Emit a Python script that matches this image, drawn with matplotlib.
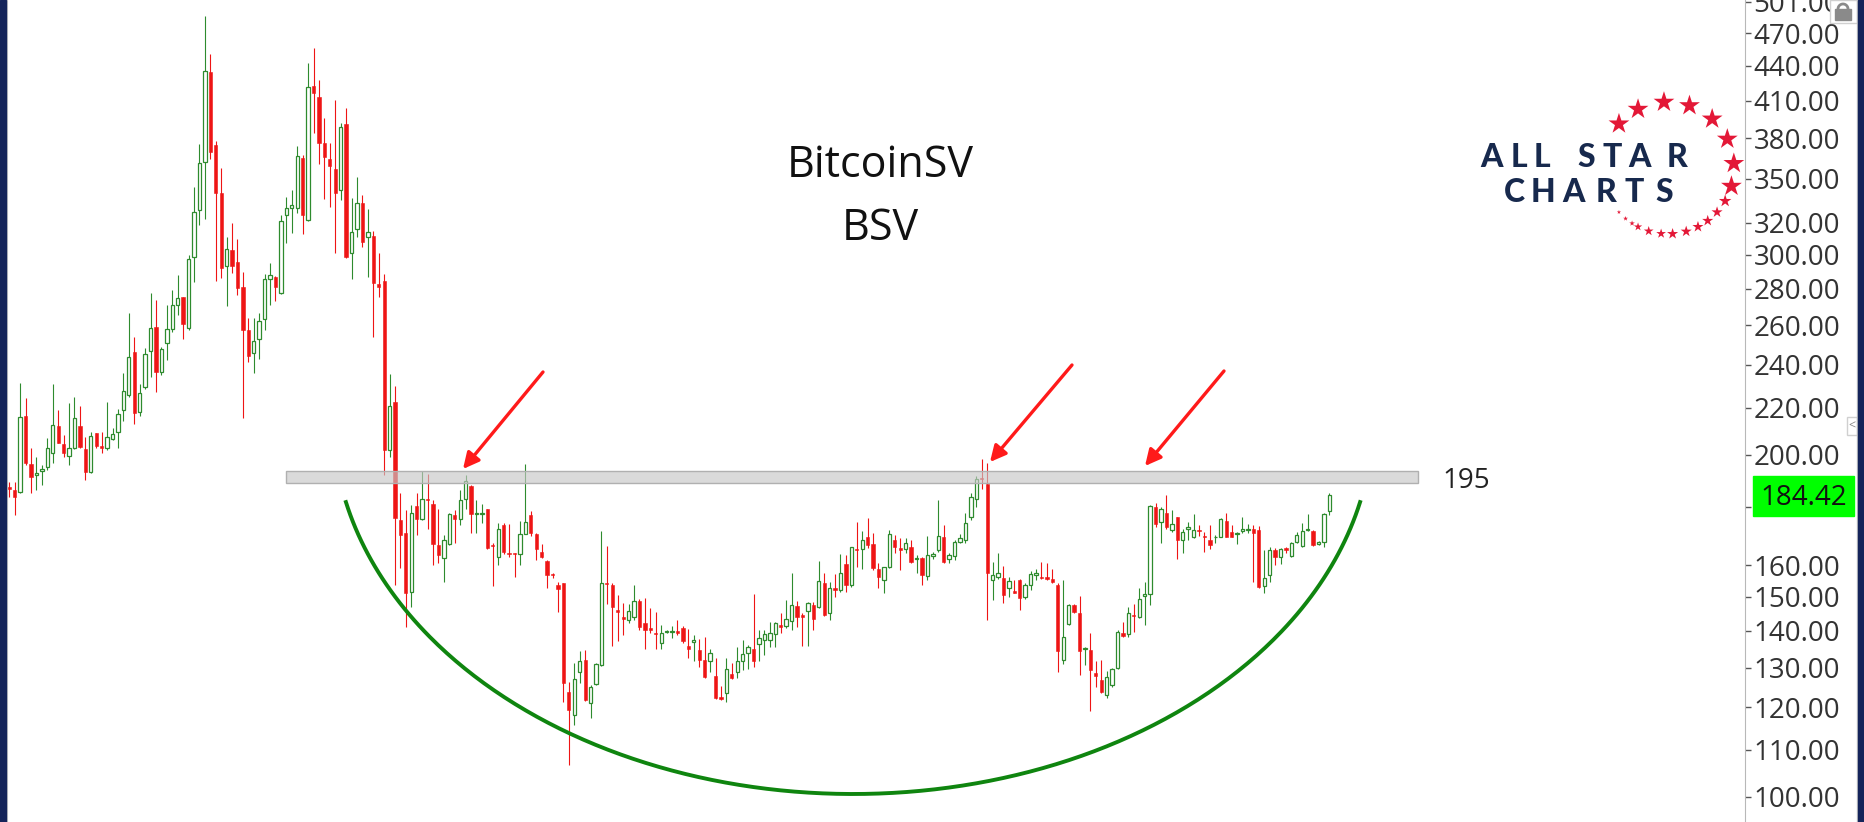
import numpy as np
import matplotlib.pyplot as plt
from matplotlib.patches import Rectangle
from matplotlib.lines import Line2D
from matplotlib.ticker import NullLocator

plt.rcParams['font.family'] = ['Open Sans', 'DejaVu Sans']

W, H = 1865, 822

# daily candles (USD)
opens = [
    187.3, 186.3, 185.6, 216.4, 196.4, 192.0, 193.7, 195.3, 200.6, 212.1,
    204.4, 199.6, 202.7, 212.1, 202.3, 193.3, 208.9, 203.6, 202.7, 206.4,
    209.6, 219.1, 225.8, 246.6, 218.4, 229.3, 247.1, 259.4, 236.8, 250.8,
    258.0, 271.0, 275.3, 258.5, 298.9, 328.5, 362.4, 434.9, 374.8, 340.3,
    293.5, 303.0, 295.5, 281.3, 257.8, 246.1, 252.8, 263.3, 285.5, 287.0,
    277.5, 325.2, 329.6, 329.6, 364.8, 321.9, 422.4, 412.8, 376.6, 364.1,
    357.2, 342.2, 390.9, 301.4, 316.0, 333.1, 311.3, 311.7, 282.8, 284.5,
    202.0, 222.8, 175.3, 170.6, 151.4, 180.3, 175.5, 183.0, 181.1, 166.6,
    162.2, 167.0, 177.1, 175.5, 182.8, 187.8, 177.3, 177.4, 179.1, 166.6,
    162.7, 173.5, 164.0, 163.8, 163.6, 170.4, 177.0, 170.4, 164.3, 161.4,
    157.1, 153.7, 154.2, 123.8, 118.1, 128.9, 132.0, 121.0, 125.7, 130.6,
    154.2, 153.7, 146.1, 143.9, 143.1, 144.1, 148.9, 142.4, 140.7, 139.5,
    136.6, 139.8, 139.6, 140.1, 140.7, 135.8, 137.0, 134.7, 132.0, 131.8,
    127.8, 122.4, 123.5, 128.3, 128.9, 131.8, 133.8, 135.1, 136.4, 137.5,
    137.5, 139.1, 141.7, 141.5, 142.8, 147.3, 144.6, 145.9, 147.6, 146.9,
    154.4, 145.1, 152.6, 152.1, 160.4, 153.7, 165.2, 165.2, 169.2, 167.0,
    158.7, 155.3, 159.5, 168.3, 165.6, 165.2, 165.9, 161.9, 162.2, 156.5,
    163.1, 165.0, 169.2, 161.9, 163.0, 167.8, 168.5, 176.5, 182.9, 190.7,
    188.5, 155.2, 156.3, 155.8, 152.6, 151.9, 155.2, 150.1, 153.7, 156.8,
    156.3, 156.1, 155.5, 153.7, 132.1, 141.9, 147.6, 145.1, 135.0, 134.7,
    128.6, 126.7, 123.0, 125.5, 129.8, 139.5, 139.0, 144.6, 143.9, 150.4,
    150.9, 180.0, 174.7, 177.7, 171.9, 176.2, 168.5, 172.3, 169.3, 171.9,
    169.7, 168.3, 169.3, 169.5, 175.1, 171.2, 170.4, 171.4, 171.9, 172.3,
    171.8, 153.2, 156.8, 164.8, 162.7, 165.6, 163.0, 167.8, 166.3, 171.7,
    171.6, 167.0, 167.8, 178.6,
]
highs = [
    189.4, 189.4, 231.2, 224.4, 202.7, 199.3, 196.0, 206.8, 230.9, 219.1,
    208.2, 222.1, 225.1, 220.9, 207.2, 209.6, 209.2, 209.6, 222.8, 211.1,
    219.3, 236.3, 266.5, 253.8, 230.9, 248.2, 277.9, 273.6, 249.1, 271.0,
    279.4, 288.0, 275.6, 299.9, 344.0, 375.5, 487.1, 450.7, 377.6, 358.0,
    311.3, 320.2, 309.6, 289.9, 264.2, 264.2, 266.5, 288.6, 294.9, 287.4,
    325.2, 337.6, 342.2, 374.0, 367.3, 442.3, 456.6, 427.6, 395.7, 376.1,
    410.6, 392.2, 403.8, 336.4, 351.5, 338.6, 329.0, 315.1, 301.0, 288.6,
    235.7, 229.9, 185.0, 178.8, 180.7, 185.0, 193.6, 192.4, 182.5, 179.1,
    170.0, 177.7, 178.8, 186.3, 192.0, 188.2, 182.5, 181.1, 179.4, 167.2,
    174.3, 174.1, 173.8, 163.9, 175.1, 196.3, 178.6, 170.9, 167.0, 161.6,
    157.3, 154.7, 154.4, 126.3, 131.1, 134.5, 134.7, 125.5, 131.1, 171.4,
    166.3, 154.2, 150.6, 148.3, 147.9, 153.7, 149.3, 149.6, 146.6, 145.6,
    141.8, 140.4, 141.3, 143.1, 141.3, 140.5, 138.8, 137.6, 138.2, 135.1,
    132.4, 125.2, 132.4, 131.1, 135.6, 137.4, 136.1, 150.9, 140.2, 140.2,
    142.6, 142.6, 145.1, 149.1, 157.3, 148.9, 145.1, 148.6, 148.6, 161.4,
    157.3, 154.7, 157.1, 163.6, 163.3, 166.1, 174.7, 171.6, 175.9, 170.9,
    160.6, 159.5, 171.9, 170.0, 168.9, 168.9, 168.5, 163.3, 162.5, 169.7,
    164.4, 182.5, 173.5, 163.8, 168.5, 170.4, 177.7, 185.0, 191.6, 198.5,
    196.6, 160.9, 163.8, 159.7, 156.3, 155.2, 155.4, 154.2, 158.2, 158.6,
    161.1, 160.6, 158.7, 154.2, 155.2, 147.9, 147.9, 150.4, 135.4, 139.3,
    131.8, 132.0, 129.1, 129.8, 140.2, 142.6, 147.1, 147.9, 152.6, 154.7,
    180.7, 181.5, 179.8, 184.3, 178.8, 176.5, 172.3, 174.7, 177.3, 173.5,
    171.2, 173.5, 170.0, 175.9, 177.9, 173.5, 171.2, 176.5, 173.8, 173.5,
    173.2, 165.0, 166.1, 165.6, 165.6, 166.1, 167.8, 171.2, 174.3, 177.3,
    171.9, 168.1, 177.7, 185.2,
]
lows = [
    183.5, 177.0, 185.3, 196.0, 185.0, 186.3, 188.2, 194.0, 196.6, 204.7,
    199.0, 196.0, 202.5, 202.7, 190.1, 193.0, 202.7, 200.6, 202.0, 206.1,
    202.7, 214.4, 225.1, 212.9, 216.4, 228.4, 234.4, 227.3, 235.2, 242.4,
    256.8, 265.6, 252.8, 257.8, 284.2, 318.5, 322.6, 364.1, 284.5, 286.1,
    270.5, 289.0, 276.6, 215.4, 241.6, 236.3, 242.7, 257.8, 271.0, 273.2,
    277.2, 307.2, 313.4, 326.3, 313.0, 321.5, 383.8, 360.6, 335.8, 330.8,
    301.4, 335.3, 298.3, 285.5, 311.3, 305.1, 287.0, 254.2, 275.7, 192.0,
    199.0, 153.7, 159.0, 141.2, 147.1, 170.0, 175.3, 172.3, 160.1, 160.6,
    154.7, 166.6, 167.2, 173.5, 179.4, 170.9, 170.9, 174.1, 165.4, 153.2,
    159.9, 163.6, 162.7, 156.3, 160.1, 170.3, 169.8, 161.6, 162.2, 152.8,
    155.8, 145.6, 121.3, 106.7, 115.7, 125.9, 121.5, 117.3, 125.5, 130.3,
    147.9, 135.8, 137.3, 138.8, 142.3, 143.1, 140.2, 135.1, 139.5, 135.1,
    135.1, 139.3, 137.9, 138.8, 136.6, 132.4, 131.8, 130.2, 127.2, 128.9,
    121.9, 121.7, 121.3, 126.9, 127.2, 129.4, 129.5, 130.2, 131.8, 133.3,
    135.4, 135.6, 139.5, 140.8, 140.2, 141.2, 135.8, 135.8, 140.4, 146.6,
    144.3, 143.1, 150.0, 151.5, 151.5, 153.1, 159.5, 158.8, 165.6, 158.5,
    152.8, 151.1, 159.0, 163.8, 158.3, 163.8, 160.8, 157.3, 153.7, 155.2,
    161.9, 164.4, 160.6, 160.6, 161.6, 167.4, 167.2, 175.3, 179.8, 186.8,
    143.1, 149.1, 155.5, 148.1, 150.1, 151.1, 146.1, 149.3, 152.1, 155.2,
    155.5, 155.2, 154.2, 128.9, 130.9, 141.7, 145.1, 128.1, 130.6, 119.1,
    125.0, 123.5, 122.1, 125.0, 129.5, 138.2, 138.2, 139.8, 143.6, 141.6,
    147.6, 172.7, 167.2, 172.3, 171.1, 161.9, 163.8, 168.3, 168.9, 169.6,
    164.3, 165.2, 167.2, 169.3, 169.3, 169.3, 167.0, 170.6, 170.9, 154.7,
    152.8, 151.1, 154.7, 160.1, 160.4, 164.1, 162.7, 167.4, 166.1, 171.6,
    166.3, 166.6, 166.1, 177.0,
]
closes = [
    186.5, 183.8, 216.1, 196.6, 191.1, 192.9, 194.2, 202.7, 212.5, 205.0,
    200.9, 202.7, 215.4, 203.3, 193.3, 207.8, 203.6, 202.7, 207.2, 208.6,
    217.3, 227.8, 244.1, 217.9, 226.9, 245.4, 258.9, 236.8, 247.7, 258.0,
    271.0, 275.1, 260.8, 297.3, 327.0, 361.6, 435.8, 369.8, 339.8, 291.9,
    303.4, 293.5, 280.3, 257.8, 244.4, 252.1, 262.1, 285.5, 288.0, 281.3,
    321.5, 329.6, 331.9, 366.5, 325.2, 421.3, 416.8, 376.1, 366.0, 359.2,
    339.8, 388.5, 298.5, 314.0, 333.1, 307.6, 314.0, 283.6, 280.9, 202.0,
    220.9, 175.9, 170.0, 151.1, 177.7, 175.5, 182.8, 182.5, 167.0, 163.3,
    168.5, 177.3, 175.5, 182.5, 189.7, 177.3, 177.7, 177.9, 165.6, 166.3,
    172.0, 164.3, 163.6, 163.6, 170.4, 174.7, 170.9, 165.2, 162.7, 156.8,
    156.8, 152.3, 125.9, 119.3, 126.9, 131.7, 121.7, 124.9, 130.9, 154.4,
    154.0, 146.9, 145.6, 143.4, 145.9, 148.9, 141.2, 140.2, 140.2, 139.1,
    139.5, 140.1, 140.0, 139.5, 137.2, 135.1, 137.5, 132.1, 127.4, 134.0,
    122.1, 122.0, 129.5, 127.2, 131.8, 133.6, 135.6, 131.8, 137.9, 139.1,
    139.3, 142.4, 141.2, 143.4, 147.6, 143.9, 144.1, 148.1, 143.3, 155.0,
    144.6, 152.6, 152.1, 157.3, 153.7, 165.9, 164.8, 168.5, 166.6, 159.0,
    156.3, 159.4, 170.4, 166.1, 165.0, 167.2, 161.1, 162.3, 156.8, 163.3,
    163.5, 169.7, 161.1, 163.3, 167.8, 168.9, 174.3, 183.6, 190.6, 190.3,
    157.3, 156.8, 157.3, 150.6, 155.0, 151.3, 149.6, 153.7, 157.1, 157.3,
    155.8, 155.6, 154.7, 134.5, 138.2, 147.6, 145.6, 134.3, 135.2, 129.3,
    127.8, 123.8, 127.6, 129.5, 139.8, 138.6, 145.1, 144.3, 149.3, 150.8,
    180.3, 174.0, 179.4, 172.7, 173.8, 168.5, 171.1, 172.9, 171.9, 171.4,
    169.3, 166.6, 169.5, 175.5, 169.5, 169.5, 170.9, 172.3, 172.3, 170.6,
    153.1, 155.8, 165.0, 162.7, 165.2, 165.0, 167.4, 170.0, 171.6, 172.3,
    166.6, 167.8, 177.4, 184.42,
]

yticks = [100, 110, 120, 130, 140, 150, 160, 180, 200, 220, 240,
          260, 280, 300, 320, 350, 380, 410, 440, 470, 501]
zone_low, zone_high = 188.8, 193.7
zone_start, zone_end = 50.9, 259.3
zone_label = "195"
last_price = closes[-1]
title = ["BitcoinSV", "BSV"]

GREEN = '#2e8b2e'
RED = '#ee1515'

fig = plt.figure(figsize=(W / 100, H / 100), dpi=100)
fig.patch.set_facecolor('white')
ax = fig.add_axes([7 / W, 0, (1745 - 7) / W, 1])

o, h, l, c = (np.array(v) for v in (opens, highs, lows, closes))
x = np.arange(len(o))
up = c >= o

# wicks then bodies
ax.vlines(x[up], l[up], h[up], color=GREEN, lw=0.8, zorder=2)
ax.vlines(x[~up], l[~up], h[~up], color=RED, lw=0.8, zorder=2)
ax.bar(x[up], c[up] - o[up], bottom=o[up], width=0.62, facecolor='white',
       edgecolor=GREEN, linewidth=0.9, zorder=3)
ax.bar(x[~up], o[~up] - c[~up], bottom=c[~up], width=0.6, color=RED,
       edgecolor=RED, linewidth=0.4, zorder=3)

# resistance zone
ax.add_patch(Rectangle((zone_start, zone_low), zone_end - zone_start,
                       zone_high - zone_low, facecolor=(0.78, 0.78, 0.78, 0.65),
                       edgecolor='#b0b0b0', lw=1, zorder=4))
ax.text(263.75, 187.0, zone_label, fontsize=20, va='baseline', ha='left',
        color='#222222')

# rounded bottom (drawn in pixel space)
t = np.radians(np.linspace(192.8, 347.2, 300))
px = 853 + 520 * np.cos(t)
py = 419 - 375 * np.sin(t)
ax.plot(px / W, 1 - py / H, transform=fig.transFigure, color='#0f850f',
        lw=2.8, zorder=5, clip_on=False)

# arrows
for tail, tip in [((543, 372), (463, 469)), ((1072, 365), (990, 462)),
                  ((1224, 371), (1145, 466))]:
    ax.annotate('', xy=(tip[0], H - tip[1]), xytext=(tail[0], H - tail[1]),
                xycoords='figure pixels', textcoords='figure pixels',
                arrowprops=dict(arrowstyle='-|>', color='#ff1a1a', lw=2.4,
                                mutation_scale=24, shrinkA=0, shrinkB=0),
                zorder=6)

# axes styling
ax.set_yscale('log')
ax.yaxis.tick_right()
ax.set_yticks(yticks)
ax.set_yticklabels([f'{v:.2f}' for v in yticks])
ax.yaxis.set_minor_locator(NullLocator())
ax.set_xticks([])
ax.tick_params(axis='y', direction='out', length=4.5, width=1, pad=1.5,
               colors='#555555', labelcolor='#333333', labelsize=20)
for side in ('top', 'bottom'):
    ax.spines[side].set_visible(False)
ax.spines['left'].set_color('#cccccc')
ax.spines['right'].set_color('#b8b8b8')
ax.set_xlim(-0.42, 319.5)
ax.set_ylim(95.06, 502.8)

# title
fig.text(880 / W, 1 - 177 / H, title[0], fontsize=31, ha='center',
         va='baseline', color='#111111')
fig.text(880 / W, 1 - 240 / H, title[1], fontsize=31, ha='center',
         va='baseline', color='#111111')

# last price tag
fig.add_artist(Rectangle((1753 / W, 1 - 516 / H), 101 / W, 40 / H,
                         transform=fig.transFigure, color='#00ff00', zorder=5))
y_last = 797 - 493.5 * np.log(last_price / 100)
fig.text(1803.5 / W, 1 - y_last / H, f'{last_price:.2f}', fontsize=20,
         ha='center', va='center_baseline', color='#111111', zorder=6)

# logo
NAVY = '#17294d'
for ch, cx in zip("ALL STAR", [1491.7, 1519, 1542.3, 0, 1586.7, 1612.3, 1640, 1676.7]):
    if ch != ' ':
        fig.text(cx / W, 1 - 167.3 / H, ch, fontsize=23, fontweight='black',
                 family=['Lato', 'DejaVu Sans'], color=NAVY, ha='center',
                 va='baseline')
for ch, cx in zip("CHARTS", [1514, 1543.3, 1573.3, 1605.7, 1634, 1664]):
    fig.text(cx / W, 1 - 201.7 / H, ch, fontsize=23, fontweight='black',
             family=['Lato', 'DejaVu Sans'], color=NAVY, ha='center',
             va='baseline')
star_ang = np.radians([138, 117, 93.5, 71, 48, 26, 4, -16, -30, -42, -53,
                       -63, -74, -86, -96, -107, -117, -123, -130, -138])
star_px = np.array([15] * 8 + [9, 8, 8, 8, 8, 8, 7, 7, 6, 4, 3.5, 3])
sx = 1668 + 66 * np.cos(star_ang)
sy = 168 - 66 * np.sin(star_ang)
ax.scatter(sx / W, 1 - sy / H, s=(1.05 * star_px) ** 2, marker='*',
           color='#e31837', linewidths=0, transform=fig.transFigure,
           clip_on=False, zorder=7)

# lock icon and small scroll button
fig.add_artist(Rectangle((1830 / W, 1 - 23 / H), 27 / W, 23 / H,
                         transform=fig.transFigure, facecolor='white',
                         edgecolor='#d0d0d0', lw=1, zorder=5))
fig.add_artist(Rectangle((1835 / W, 1 - 20 / H), 16 / W, 11 / H,
                         transform=fig.transFigure, color='#8a8a8a', zorder=6))
th = np.radians(np.linspace(0, 180, 40))
fig.add_artist(Line2D((1843 + 5 * np.cos(th)) / W, 1 - (9 - 5 * np.sin(th)) / H,
                      transform=fig.transFigure, color='#8a8a8a', lw=2, zorder=6))
fig.add_artist(Rectangle((1847 / W, 1 - 435 / H), 10 / W, 18 / H,
                         transform=fig.transFigure, facecolor='white',
                         edgecolor='#d0d0d0', lw=1, zorder=5))
fig.text(1852 / W, 1 - 426 / H, '<', fontsize=9, color='#888888', ha='center',
         va='center', zorder=6)

# frame
fig.add_artist(Line2D([1857 / W, 1857 / W], [0, 1], transform=fig.transFigure,
                      color='#c8c8c8', lw=1, zorder=9))
fig.add_artist(Rectangle((0, 0), 6 / W, 1, transform=fig.transFigure,
                         color='#14245a', zorder=10))
fig.add_artist(Rectangle((1858 / W, 0), 7 / W, 1, transform=fig.transFigure,
                         color='#14245a', zorder=10))

fig.savefig('out.png', dpi=100, facecolor='white')
